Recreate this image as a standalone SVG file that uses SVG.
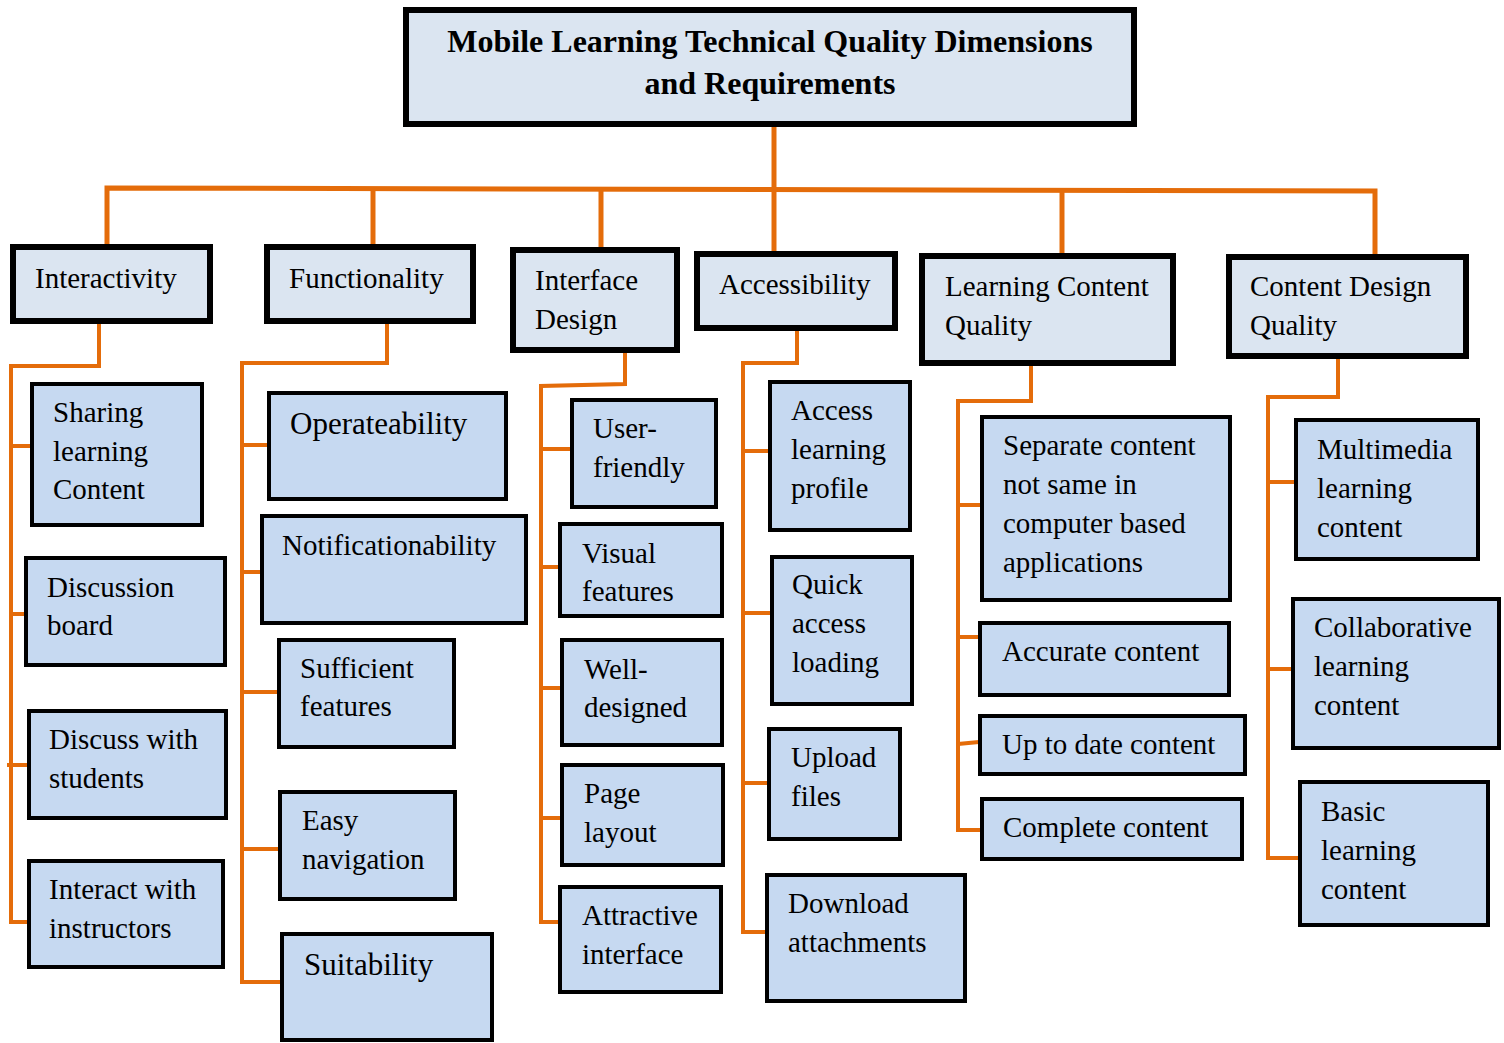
<svg xmlns="http://www.w3.org/2000/svg" width="1504" height="1043" viewBox="0 0 1504 1043">
  <style>
    .title-box { fill: #dbe5f1; stroke: #000; stroke-width: 6; }
    .cat { fill: #dbe5f1; stroke: #000; stroke-width: 6; }
    .item { fill: #c6d9f1; stroke: #000; stroke-width: 4; }
    text { font-family: "Liberation Serif", "Times New Roman", serif; font-size: 29px; fill: #000; }
    .title { font-weight: bold; font-size: 32px; text-anchor: middle; }
    .big { font-size: 31px; }
    .bus { fill: none; stroke: #e46c0a; stroke-width: 5; stroke-linejoin: miter; }
    .link { fill: none; stroke: #e46c0a; stroke-width: 4; stroke-linejoin: miter; }
  </style>

  <!-- connectors -->
  <g id="connectors">
    <path class="bus" d="M107,246 V188 L1375,191 V254"/>
    <path class="bus" d="M373,188.5 V245"/>
    <path class="bus" d="M601,189 V248"/>
    <path class="bus" d="M774,126 V252"/>
    <path class="bus" d="M1062,190.5 V254"/>

    <path class="link" d="M99,324 V366 H11 V922 H28"/>
    <path class="link" d="M11,446 H31 M11,614 H25 M7,765 H28"/>

    <path class="link" d="M387,324 V363 H242 V982 H281"/>
    <path class="link" d="M242,445 H268 M242,572 H261 M242,692 H278 M242,849 H279"/>

    <path class="link" d="M625,352 V384 L541,386 V922 H559"/>
    <path class="link" d="M541,449 H571 M541,567 H559 M541,688 H561 M541,818 H561"/>

    <path class="link" d="M797,330 V363 H743 V932 H766"/>
    <path class="link" d="M743,451 H769 M743,613 H771 M743,783 H768"/>

    <path class="link" d="M1031,365 V401 H958 V830 H981"/>
    <path class="link" d="M958,505 H981 M958,637 H979 M958,744 L979,742"/>

    <path class="link" d="M1338,358 V397 H1268 V858 H1299"/>
    <path class="link" d="M1268,482 H1295 M1268,669 H1292"/>
  </g>

  <!-- root -->
  <g id="root">
    <rect class="title-box" x="406" y="10" width="728" height="114"/>
    <text class="title" x="770" y="52">Mobile Learning Technical Quality Dimensions</text>
    <text class="title" x="770" y="94">and Requirements</text>
  </g>

  <!-- dimensions -->
  <g id="interactivity">
    <rect class="cat" x="13" y="247" width="197" height="74"/>
    <text x="35" y="288">Interactivity</text>
  </g>
  <g id="functionality">
    <rect class="cat" x="267" y="247" width="206" height="74"/>
    <text x="289" y="288">Functionality</text>
  </g>
  <g id="interface-design">
    <rect class="cat" x="513" y="250" width="164" height="100"/>
    <text x="535" y="290">Interface</text>
    <text x="535" y="329">Design</text>
  </g>
  <g id="accessibility">
    <rect class="cat" x="697" y="254" width="198" height="74"/>
    <text x="719" y="294">Accessibility</text>
  </g>
  <g id="learning-content-quality">
    <rect class="cat" x="922" y="256" width="251" height="107"/>
    <text x="945" y="296">Learning Content</text>
    <text x="945" y="335">Quality</text>
  </g>
  <g id="content-design-quality">
    <rect class="cat" x="1229" y="257" width="237" height="99"/>
    <text x="1250" y="296">Content Design</text>
    <text x="1250" y="335">Quality</text>
  </g>

  <!-- interactivity items -->
  <g id="sharing-learning-content">
    <rect class="item" x="32" y="384" width="170" height="141"/>
    <text x="53" y="422">Sharing</text>
    <text x="53" y="461">learning</text>
    <text x="53" y="499">Content</text>
  </g>
  <g id="discussion-board">
    <rect class="item" x="26" y="558" width="199" height="107"/>
    <text x="47" y="597">Discussion</text>
    <text x="47" y="635">board</text>
  </g>
  <g id="discuss-with-students">
    <rect class="item" x="29" y="711" width="197" height="107"/>
    <text x="49" y="749">Discuss with</text>
    <text x="49" y="788">students</text>
  </g>
  <g id="interact-with-instructors">
    <rect class="item" x="29" y="861" width="194" height="106"/>
    <text x="49" y="899">Interact with</text>
    <text x="49" y="938">instructors</text>
  </g>

  <!-- functionality items -->
  <g id="operateability">
    <rect class="item" x="269" y="393" width="237" height="106"/>
    <text class="big" x="290" y="434">Operateability</text>
  </g>
  <g id="notificationability">
    <rect class="item" x="262" y="516" width="264" height="107"/>
    <text x="282" y="555">Notificationability</text>
  </g>
  <g id="sufficient-features">
    <rect class="item" x="279" y="640" width="175" height="107"/>
    <text x="300" y="678">Sufficient</text>
    <text x="300" y="716">features</text>
  </g>
  <g id="easy-navigation">
    <rect class="item" x="280" y="792" width="175" height="107"/>
    <text x="302" y="830">Easy</text>
    <text x="302" y="869">navigation</text>
  </g>
  <g id="suitability">
    <rect class="item" x="282" y="934" width="210" height="106"/>
    <text class="big" x="304" y="975">Suitability</text>
  </g>

  <!-- interface design items -->
  <g id="user-friendly">
    <rect class="item" x="572" y="400" width="144" height="107"/>
    <text x="593" y="438">User-</text>
    <text x="593" y="477">friendly</text>
  </g>
  <g id="visual-features">
    <rect class="item" x="560" y="524" width="162" height="92"/>
    <text x="582" y="563">Visual</text>
    <text x="582" y="601">features</text>
  </g>
  <g id="well-designed">
    <rect class="item" x="562" y="640" width="160" height="105"/>
    <text x="584" y="679">Well-</text>
    <text x="584" y="717">designed</text>
  </g>
  <g id="page-layout">
    <rect class="item" x="562" y="765" width="161" height="100"/>
    <text x="584" y="803">Page</text>
    <text x="584" y="842">layout</text>
  </g>
  <g id="attractive-interface">
    <rect class="item" x="560" y="887" width="161" height="105"/>
    <text x="582" y="925">Attractive</text>
    <text x="582" y="964">interface</text>
  </g>

  <!-- accessibility items -->
  <g id="access-learning-profile">
    <rect class="item" x="770" y="382" width="140" height="148"/>
    <text x="791" y="420">Access</text>
    <text x="791" y="459">learning</text>
    <text x="791" y="498">profile</text>
  </g>
  <g id="quick-access-loading">
    <rect class="item" x="772" y="557" width="140" height="147"/>
    <text x="792" y="594">Quick</text>
    <text x="792" y="633">access</text>
    <text x="792" y="672">loading</text>
  </g>
  <g id="upload-files">
    <rect class="item" x="769" y="729" width="131" height="110"/>
    <text x="791" y="767">Upload</text>
    <text x="791" y="806">files</text>
  </g>
  <g id="download-attachments">
    <rect class="item" x="767" y="875" width="198" height="126"/>
    <text x="788" y="913">Download</text>
    <text x="788" y="952">attachments</text>
  </g>

  <!-- learning content quality items -->
  <g id="separate-content">
    <rect class="item" x="982" y="417" width="248" height="183"/>
    <text x="1003" y="455">Separate content</text>
    <text x="1003" y="494">not same in</text>
    <text x="1003" y="533">computer based</text>
    <text x="1003" y="572">applications</text>
  </g>
  <g id="accurate-content">
    <rect class="item" x="980" y="623" width="249" height="72"/>
    <text x="1002" y="661">Accurate content</text>
  </g>
  <g id="up-to-date-content">
    <rect class="item" x="980" y="716" width="265" height="58"/>
    <text x="1002" y="754">Up to date content</text>
  </g>
  <g id="complete-content">
    <rect class="item" x="982" y="799" width="260" height="60"/>
    <text x="1003" y="837">Complete content</text>
  </g>

  <!-- content design quality items -->
  <g id="multimedia-learning-content">
    <rect class="item" x="1296" y="420" width="182" height="139"/>
    <text x="1317" y="459">Multimedia</text>
    <text x="1317" y="498">learning</text>
    <text x="1317" y="537">content</text>
  </g>
  <g id="collaborative-learning-content">
    <rect class="item" x="1293" y="599" width="206" height="149"/>
    <text x="1314" y="637">Collaborative</text>
    <text x="1314" y="676">learning</text>
    <text x="1314" y="715">content</text>
  </g>
  <g id="basic-learning-content">
    <rect class="item" x="1300" y="782" width="188" height="143"/>
    <text x="1321" y="821">Basic</text>
    <text x="1321" y="860">learning</text>
    <text x="1321" y="899">content</text>
  </g>
</svg>
